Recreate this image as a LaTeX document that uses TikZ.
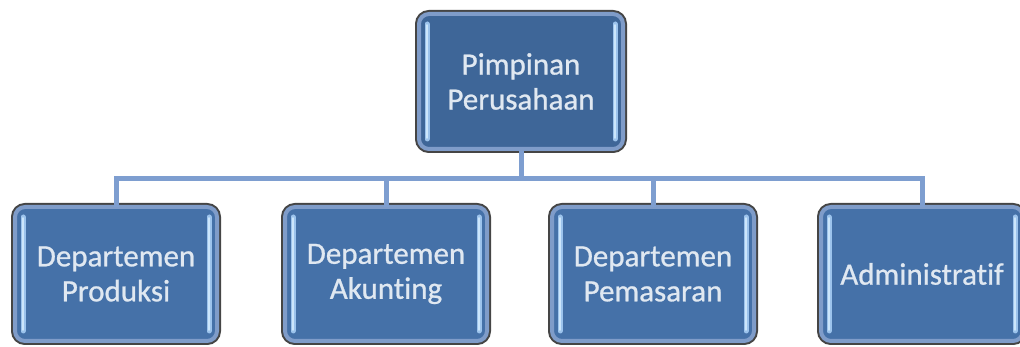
\documentclass[tikz,border=0pt]{standalone}
\usepackage{fontspec}
\setmainfont[Ligatures={NoCommon,NoRare}, FakeBold=0.8]{Carlito}
\definecolor{boxfill}{HTML}{4571A8}
\definecolor{topfill}{HTML}{3E6698}
\definecolor{boxedge}{HTML}{7F9CC9}
\definecolor{boxshadow}{HTML}{454545}
\definecolor{boxtext}{HTML}{E0E8F1}
\definecolor{glint}{HTML}{9CC3EC}
\definecolor{glintcore}{HTML}{CCE6FB}
\definecolor{linkline}{HTML}{7E9ED0}
\tikzset{
  orgbox/.style={
    rounded corners=10pt, fill=boxfill, draw=boxedge, line width=4pt,
    minimum width=202pt, minimum height=134pt, inner sep=0pt,
    text=boxtext, align=center, font=\fontsize{31}{35}\selectfont,
    preaction={draw=boxshadow, line width=8pt},
    path picture={
      \foreach \side/\dx in {west/8pt, east/-8pt}{
        \draw[line width=5pt, glint, line cap=round]
          ([xshift=\dx, yshift=10pt]path picture bounding box.south \side) --
          ([xshift=\dx, yshift=-10pt]path picture bounding box.north \side);
        \draw[line width=1.6pt, glintcore, line cap=round]
          ([xshift=\dx, yshift=11pt]path picture bounding box.south \side) --
          ([xshift=\dx, yshift=-11pt]path picture bounding box.north \side);
      }
    }
  },
  link/.style={draw=linkline, line width=5pt}
}
\begin{document}
\begin{tikzpicture}[x=1pt, y=1pt]
  \useasboundingbox (0,0) rectangle (1020,347);
  % connector bus, drawn first so the boxes sit on top of it
  \coordinate (bus) at (0,168);
  \path (521,265.5) coordinate (topc);
  % boxes
  \node[orgbox, fill=topfill, minimum width=204pt, minimum height=135pt] (top) at (topc) {Pimpinan\\Perusahaan};
  \node[orgbox] (prod) at (116,73) {Departemen\\Produksi};
  \node[orgbox] (akun) at (386,73) {Departemen\\Akunting};
  \node[orgbox] (pasar) at (653,73) {Departemen\\Pemasaran};
  \node[orgbox] (admin) at (922,73) {Administratif};
  \draw[link] (top.south) -- (top.south |- bus) -| ([yshift=-2pt]prod.north);
  \draw[link] (top.south |- bus) -| ([yshift=-2pt]admin.north);
  \draw[link] (akun.north |- bus) -- ([yshift=-2pt]akun.north);
  \draw[link] (pasar.north |- bus) -- ([yshift=-2pt]pasar.north);
\end{tikzpicture}
\end{document}
